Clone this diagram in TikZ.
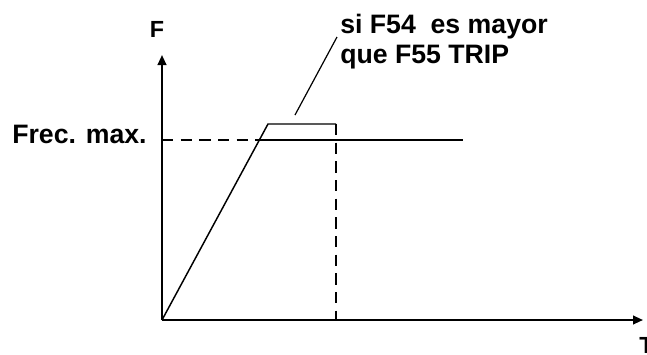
\documentclass[tikz,border=0pt]{standalone}
\usepackage{fontspec}
\setmainfont{Liberation Sans}
\usetikzlibrary{arrows.meta}
\begin{document}
\begin{tikzpicture}[x=0.75pt,y=-0.75pt,
  axis/.style={line width=1.5pt,-{Triangle[length=7.5pt,width=6.5pt]}},
  curve/.style={line width=1.1pt},
  guide/.style={line width=1.1pt,dash pattern=on 8.5pt off 5.5pt},
  leader/.style={line width=0.9pt},
  lbl/.style={inner sep=0pt,font=\bfseries\fontsize{20}{24}\selectfont},
  axlbl/.style={inner sep=0pt,font=\bfseries\fontsize{17.5}{21}\selectfont}]
\useasboundingbox (0,0) rectangle (647,354);
\coordinate (O) at (162,320);
\coordinate (Ytop) at (162,55);
\coordinate (Xend) at (643,320);
\coordinate (A) at (258,140);
\coordinate (B) at (268,124);
\coordinate (C) at (336,124);
\coordinate (D) at (336,320);
\coordinate (E) at (463,140);
\coordinate (Y140) at (162,140);
\coordinate (L1) at (295,115);
\coordinate (L2) at (337,37);
\draw[axis] (O) -- (Ytop);
\draw[axis] (O) -- (Xend);
\draw[curve] (O) -- (B) -- (C);
\draw[curve] (A) -- (E);
\draw[guide] (Y140) -- (A);
\draw[guide] (C) -- (D);
\draw[leader] (L1) -- (L2);
\node[lbl,anchor=base west] (fmax) at (12,143) {Frec. max.};
\node[axlbl,anchor=base] (F) at (157,37) {F};
\node[axlbl,anchor=base west] (T) at (639,353) {T};
\node[lbl,anchor=base west] (n1) at (340,33) {si F54\ \ es mayor};
\node[lbl,anchor=base west] (n2) at (340,63) {que F55 TRIP};
\end{tikzpicture}
\end{document}
